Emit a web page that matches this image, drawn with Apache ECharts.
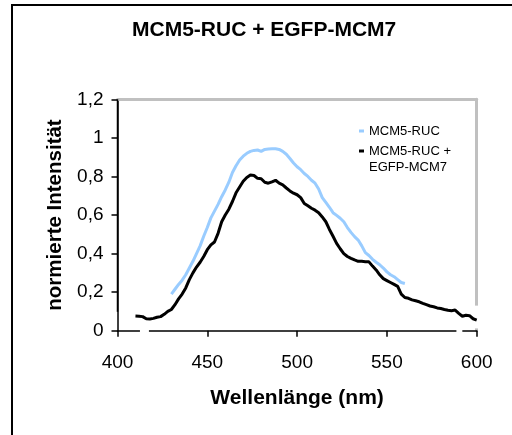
<!DOCTYPE html>
<html>
<head>
<meta charset="utf-8">
<script src="https://cdn.jsdelivr.net/npm/echarts@6/dist/echarts.min.js"></script>
<style>
html,body{margin:0;padding:0;background:#fff;}
#chart{width:512px;height:435px;}
</style>
</head>
<body>
<div id="chart"></div>
<script>
// ---- data ----
const titleText = 'MCM5-RUC + EGFP-MCM7';
const xAxisName = 'Wellenlänge (nm)';
const yAxisName = 'normierte Intensität';
const seriesNames = ['MCM5-RUC', 'MCM5-RUC + EGFP-MCM7'];

const rucWavelength = [430,432,434,436,438,440,442,444,446,448,450,452,454,456,458,460,462,464,466,468,470,472,474,476,478,480,482,484,486,488,490,492,494,496,498,500,502,504,506,508,510,512,514,516,518,520,522,524,526,528,530,532,534,536,538,540,542,544,546,548,550,552,554,556,558,560];
const rucValues = [0.19,0.215,0.24,0.262,0.29,0.325,0.36,0.40,0.44,0.49,0.535,0.585,0.62,0.655,0.695,0.73,0.77,0.82,0.855,0.885,0.905,0.92,0.93,0.935,0.937,0.93,0.94,0.942,0.943,0.944,0.94,0.93,0.915,0.893,0.87,0.85,0.835,0.815,0.80,0.78,0.765,0.735,0.69,0.665,0.64,0.612,0.598,0.583,0.565,0.535,0.51,0.488,0.47,0.44,0.405,0.39,0.37,0.355,0.342,0.325,0.305,0.29,0.28,0.265,0.25,0.245];

const bothWavelength = [410,412,414,416,418,420,422,424,426,428,430,432,434,436,438,440,442,444,446,448,450,452,454,456,458,460,462,464,466,468,470,472,474,476,478,480,482,484,486,488,490,492,494,496,498,500,502,504,506,508,510,512,514,516,518,520,522,524,526,528,530,532,534,536,538,540,542,544,546,548,550,552,554,556,558,560,562,564,566,568,570,572,574,576,578,580,582,584,586,588,590,592,594,596,598,600];
const bothValues = [0.076,0.075,0.073,0.062,0.061,0.064,0.07,0.073,0.085,0.10,0.11,0.135,0.165,0.19,0.222,0.265,0.30,0.33,0.355,0.385,0.42,0.445,0.46,0.505,0.565,0.60,0.63,0.67,0.715,0.745,0.775,0.795,0.807,0.805,0.79,0.788,0.77,0.765,0.772,0.78,0.765,0.756,0.74,0.725,0.713,0.705,0.69,0.66,0.648,0.635,0.625,0.612,0.59,0.565,0.525,0.49,0.453,0.425,0.40,0.385,0.375,0.367,0.36,0.36,0.358,0.357,0.335,0.315,0.29,0.27,0.26,0.25,0.24,0.23,0.19,0.172,0.168,0.16,0.155,0.15,0.142,0.135,0.128,0.124,0.118,0.115,0.11,0.106,0.104,0.107,0.09,0.075,0.08,0.078,0.062,0.055];

const xMin = 400, xMax = 600, xStep = 50;
const yMin = 0, yMax = 1.2, yStep = 0.2;

// ---- chart ----
const FONT = 'Liberation Sans, Arial, sans-serif';
const BLUE = '#99ccff';
const chart = echarts.init(document.getElementById('chart'));

function pairs(xs, ys) { return xs.map((x, i) => [x, ys[i]]); }

const option = {
  animation: false,
  backgroundColor: '#fff',
  title: {
    text: titleText,
    left: 132, top: 20, padding: 0,
    textStyle: { fontFamily: FONT, fontSize: 21, fontWeight: 'bold', color: '#000' }
  },
  legend: [
    {
      data: [seriesNames[0]],
      left: 359, top: 123, padding: 0,
      icon: 'rect', itemWidth: 5, itemHeight: 3,
      textStyle: { fontFamily: FONT, fontSize: 13, lineHeight: 16, color: '#000' }
    },
    {
      data: [seriesNames[1]],
      left: 359, top: 127, padding: 0,
      icon: 'rect', itemWidth: 5, itemHeight: 3,
      formatter: function () { return '\nMCM5-RUC +\nEGFP-MCM7'; },
      textStyle: { fontFamily: FONT, fontSize: 13, lineHeight: 16, color: '#000' }
    }
  ],
  grid: { left: 117.5, right: 35.3, top: 99.3, bottom: 104.3 },
  xAxis: [
    {
      type: 'value', min: xMin, max: xMax, interval: xStep, position: 'bottom',
      name: xAxisName, nameLocation: 'middle', nameGap: 57,
      nameTextStyle: { fontFamily: FONT, fontSize: 21, fontWeight: 'bold', color: '#000' },
      axisLine: { show: true, onZero: false, lineStyle: { color: '#000', width: 1.5 } },
      axisTick: { show: true, length: 6, lineStyle: { color: '#000', width: 1.5 } },
      axisLabel: { fontFamily: FONT, fontSize: 19, color: '#000', margin: 23 },
      splitLine: { show: false }
    },
    {
      type: 'value', min: xMin, max: xMax, position: 'top',
      axisLine: { show: true, onZero: false, lineStyle: { color: '#c0c0c0', width: 3 } },
      axisTick: { show: false }, axisLabel: { show: false }, splitLine: { show: false }
    }
  ],
  yAxis: [
    {
      type: 'value', min: yMin, max: yMax, interval: yStep, position: 'left',
      name: yAxisName, nameLocation: 'middle', nameGap: 52,
      nameTextStyle: { fontFamily: FONT, fontSize: 20.5, fontWeight: 'bold', color: '#000' },
      axisLine: { show: true, onZero: false, lineStyle: { color: '#000', width: 1.5 } },
      axisTick: { show: true, length: 6, lineStyle: { color: '#000', width: 1.5 } },
      axisLabel: {
        fontFamily: FONT, fontSize: 19, color: '#000', margin: 14,
        formatter: function (v) { return String(Math.round(v * 10) / 10).replace('.', ','); }
      },
      splitLine: { show: false }
    },
    {
      type: 'value', min: yMin, max: yMax, position: 'right',
      axisLine: { show: true, onZero: false, lineStyle: { color: '#c0c0c0', width: 3 } },
      axisTick: { show: false }, axisLabel: { show: false }, splitLine: { show: false }
    }
  ],
  series: [
    {
      name: seriesNames[0], type: 'line', xAxisIndex: 0, yAxisIndex: 0,
      data: pairs(rucWavelength, rucValues),
      showSymbol: false, symbol: 'none', z: 5,
      lineStyle: { color: BLUE, width: 3 }, itemStyle: { color: BLUE }
    },
    {
      name: seriesNames[1], type: 'line', xAxisIndex: 0, yAxisIndex: 0,
      data: pairs(bothWavelength, bothValues),
      showSymbol: false, symbol: 'none', z: 6,
      lineStyle: { color: '#000', width: 3 }, itemStyle: { color: '#000' }
    }
  ]
};
chart.setOption(option);

// axis breaks and outer frame, placed through the chart's own scales
function px(x, y) { return chart.convertToPixel({ xAxisIndex: 0, yAxisIndex: 0 }, [x, y]); }
const p0 = px(xMin, 0), pA = px(xMin, 0.098), pTop = px(xMin, yMax);
const rA = px(xMax, 0.13), rB = px(xMax, 0.012);
const g1a = px(412.5, 0), g1b = px(417.5, 0), g2a = px(588.7, 0), g2b = px(592, 0);
chart.setOption({
  graphic: [
    { type: 'line', z: 3, silent: true, shape: { x1: pA[0], y1: pA[1], x2: pTop[0], y2: pTop[1] }, style: { stroke: '#000', lineWidth: 1.5 } },
    { type: 'rect', z: 3, silent: true, shape: { x: rA[0] - 3, y: rA[1], width: 6, height: rB[1] - rA[1] }, style: { fill: '#fff' } },
    { type: 'rect', z: 3, silent: true, shape: { x: g1a[0], y: p0[1] - 2, width: g1b[0] - g1a[0], height: 4 }, style: { fill: '#fff' } },
    { type: 'rect', z: 3, silent: true, shape: { x: g2a[0], y: p0[1] - 2, width: g2b[0] - g2a[0], height: 4 }, style: { fill: '#fff' } },
    { type: 'rect', z: 10, silent: true, shape: { x: 12, y: 5, width: 700, height: 700 }, style: { fill: null, stroke: '#000', lineWidth: 2 } }
  ]
});
</script>
</body>
</html>
